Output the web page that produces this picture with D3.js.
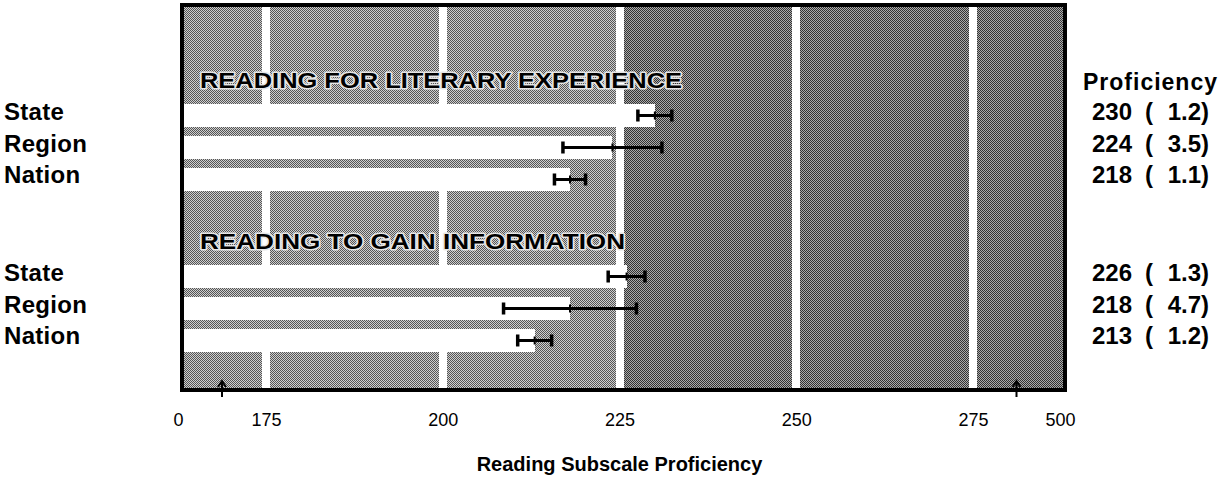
<!DOCTYPE html>
<html>
<head>
<meta charset="utf-8">
<script src="https://cdn.jsdelivr.net/npm/d3@7"></script>
<style>
  html, body { margin: 0; padding: 0; background: #fff; }
  svg { display: block; font-family: "Liberation Sans", Arial, sans-serif; }
</style>
</head>
<body>
<svg id="chart" width="1226" height="478"></svg>
<script>
// ---- data ----
const sectionTitles = ["READING FOR LITERARY EXPERIENCE", "READING TO GAIN INFORMATION"];
const groups = ["State", "Region", "Nation"];
const literaryValues = [230, 224, 218];
const literarySE = [1.2, 3.5, 1.1];
const gainValues = [226, 218, 213];
const gainSE = [1.3, 4.7, 1.2];
const tickValues = [0, 175, 200, 225, 250, 275, 500];
const gridValues = [175, 200, 225, 250, 275];
const headerLabel = "Proficiency";
const axisTitle = "Reading Subscale Proficiency";

const sections = [
  { title: sectionTitles[0], values: literaryValues, se: literarySE },
  { title: sectionTitles[1], values: gainValues, se: gainSE }
];

// ---- layout ----
const svg = d3.select("#chart");
const frame = { left: 182, top: 5, right: 1065, bottom: 390 };
const sectionTops = [104, 265];
const sectionHeight = 87;

// broken (piecewise linear) scale
const x = d3.scaleLinear()
  .domain([0, 175, 275, 500])
  .range([178, 266, 973, 1060]);

const defs = svg.append("defs");
function dither(id, bg, fg) {
  const p = defs.append("pattern").attr("id", id)
    .attr("patternUnits", "userSpaceOnUse").attr("width", 2).attr("height", 2);
  p.append("rect").attr("width", 2).attr("height", 2).attr("fill", bg);
  p.append("rect").attr("x", 0).attr("y", 0).attr("width", 1).attr("height", 1).attr("fill", fg);
  p.append("rect").attr("x", 1).attr("y", 1).attr("width", 1).attr("height", 1).attr("fill", fg);
}
dither("patLight", "#cfcfcf", "#555555");
dither("patDark", "#ababab", "#333333");

defs.append("clipPath").attr("id", "plotClip")
  .append("rect")
  .attr("x", frame.left).attr("y", frame.top)
  .attr("width", frame.right - frame.left).attr("height", frame.bottom - frame.top);

const plot = svg.append("g").attr("clip-path", "url(#plotClip)")
  .attr("shape-rendering", "crispEdges");

// background regions
plot.append("rect")
  .attr("x", frame.left).attr("y", frame.top)
  .attr("width", x(225) - frame.left).attr("height", frame.bottom - frame.top)
  .attr("fill", "url(#patLight)");
plot.append("rect")
  .attr("x", x(225)).attr("y", frame.top)
  .attr("width", frame.right - x(225)).attr("height", frame.bottom - frame.top)
  .attr("fill", "url(#patDark)");

// white gridlines
plot.selectAll("rect.grid").data(gridValues).join("rect")
  .attr("class", "grid")
  .attr("x", d => x(d) - 4).attr("width", 8)
  .attr("y", frame.top).attr("height", frame.bottom - frame.top)
  .attr("fill", "#fff");

sections.forEach((sec, si) => {
  const y = d3.scaleBand().domain(groups)
    .range([sectionTops[si], sectionTops[si] + sectionHeight])
    .paddingInner(0.28);

  // band behind the bars
  plot.append("rect")
    .attr("x", frame.left).attr("y", sectionTops[si])
    .attr("width", x(225) - 4 - frame.left).attr("height", sectionHeight)
    .attr("fill", "url(#patLight)");

  const rows = groups.map((g, i) => ({ g, v: sec.values[i], se: sec.se[i] }));

  plot.selectAll(null).data(rows).join("rect")
    .attr("x", x(0)).attr("y", d => y(d.g))
    .attr("width", d => x(d.v) - x(0)).attr("height", y.bandwidth())
    .attr("fill", "#fff");

  const eb = svg.append("g").attr("stroke", "#000");
  rows.forEach(d => {
    const cy = y(d.g) + y.bandwidth() / 2;
    const lo = x(d.v - 2 * d.se), hi = x(d.v + 2 * d.se);
    eb.append("line").attr("x1", lo).attr("x2", hi).attr("y1", cy).attr("y2", cy)
      .attr("stroke-width", 3);
    [lo, hi].forEach(px => eb.append("line")
      .attr("x1", px).attr("x2", px).attr("y1", cy - 6).attr("y2", cy + 6)
      .attr("stroke-width", 3.5));
    eb.append("line").attr("x1", x(d.v)).attr("x2", x(d.v))
      .attr("y1", cy - 4).attr("y2", cy + 4).attr("stroke-width", 2);
  });

  // section heading
  svg.append("text")
    .attr("x", 200).attr("y", sectionTops[si] - 16)
    .attr("font-size", 22).attr("font-weight", "bold")
    .attr("textLength", si === 0 ? 482 : 425).attr("lengthAdjust", "spacingAndGlyphs")
    .attr("fill", "#000").attr("stroke", "#e6e6e6").attr("stroke-width", 3)
    .attr("paint-order", "stroke").attr("stroke-linejoin", "round")
    .text(sec.title);

  // left labels
  svg.selectAll(null).data(rows).join("text")
    .attr("x", 4).attr("y", d => y(d.g) + y.bandwidth() / 2 + 4)
    .attr("font-size", 24).attr("font-weight", "bold").attr("letter-spacing", 0.3)
    .text(d => d.g);

  // right value labels
  const rt = svg.selectAll(null).data(rows).join("text")
    .attr("y", d => y(d.g) + y.bandwidth() / 2 + 4)
    .attr("font-size", 24).attr("font-weight", "bold");
  rt.append("tspan").attr("x", 1092).text(d => d.v);
  rt.append("tspan").attr("x", 1145).text("(");
  rt.append("tspan").attr("x", 1209).attr("text-anchor", "end").text(d => d.se.toFixed(1) + ")");
});

// frame
svg.append("rect")
  .attr("x", frame.left).attr("y", frame.top)
  .attr("width", frame.right - frame.left).attr("height", frame.bottom - frame.top)
  .attr("fill", "none").attr("stroke", "#000").attr("stroke-width", 4);

// axis break marks
[(x(0) + x(175)) / 2 + 0, (x(275) + x(500)) / 2].forEach(bx => {
  svg.append("path")
    .attr("d", `M${bx - 4},${frame.bottom - 3} L${bx},${frame.bottom - 9} L${bx + 4},${frame.bottom - 3} M${bx},${frame.bottom - 9} L${bx},${frame.bottom + 7}`)
    .attr("fill", "none").attr("stroke", "#000").attr("stroke-width", 2);
});

// axis tick labels
const axis = d3.axisBottom(x).tickValues(tickValues).tickSize(0).tickPadding(0)
  .tickFormat(d3.format("d"));
const ax = svg.append("g").attr("transform", "translate(0,412)").call(axis);
ax.select(".domain").remove();
ax.selectAll("text").attr("font-size", 18).attr("fill", "#000")
  .attr("font-family", "Liberation Sans, Arial, sans-serif").attr("dy", "0.75em");

// header & axis title
svg.append("text").attr("x", 1083).attr("y", 90)
  .attr("font-size", 23).attr("font-weight", "bold").attr("letter-spacing", 1)
  .text(headerLabel);
svg.append("text").attr("x", x(225)).attr("y", 471).attr("text-anchor", "middle")
  .attr("font-size", 20).attr("font-weight", "bold")
  .text(axisTitle);
</script>
</body>
</html>
